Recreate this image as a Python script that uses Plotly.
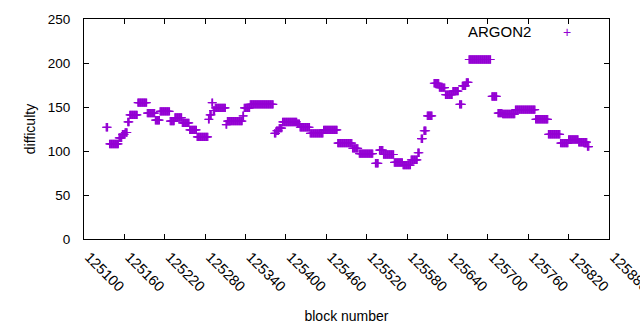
import plotly.graph_objects as go

# Runs of consecutive blocks sharing one difficulty value
run_start = [125133, 125138, 125152, 125157, 125161, 125165, 125168, 125180, 125194, 125206,
             125213, 125228, 125235, 125246, 125257, 125268, 125285, 125287, 125290, 125292,
             125295, 125311, 125313, 125336, 125338, 125347, 125383, 125386, 125390, 125395,
             125417, 125421, 125436, 125456, 125477, 125499, 125509, 125533, 125539, 125545,
             125561, 125574, 125586, 125596, 125601, 125605, 125610, 125620, 125628, 125637,
             125648, 125658, 125662, 125668, 125672, 125706, 125715, 125722, 125741, 125771,
             125790, 125808, 125820, 125835, 125848]
run_end = [125135, 125151, 125156, 125160, 125164, 125167, 125179, 125193, 125205, 125212,
           125227, 125234, 125245, 125256, 125267, 125284, 125286, 125289, 125291, 125294,
           125310, 125312, 125335, 125337, 125346, 125381, 125385, 125389, 125394, 125416,
           125420, 125435, 125455, 125476, 125498, 125507, 125529, 125537, 125544, 125560,
           125573, 125585, 125595, 125598, 125603, 125608, 125617, 125627, 125636, 125647,
           125656, 125661, 125667, 125671, 125704, 125713, 125721, 125740, 125770, 125789,
           125807, 125819, 125834, 125847, 125850]
run_difficulty = [127, 108, 115, 119, 121, 133, 141, 155, 143, 135,
                  145, 134, 138, 132, 124, 116, 136, 141, 155, 146,
                  149, 130, 134, 140, 149, 153, 120, 123, 126, 133,
                  131, 127, 120, 124, 109, 103, 97, 86, 101, 96,
                  87, 84, 90, 98, 114, 123, 140, 177, 172, 164,
                  168, 153, 174, 178, 204, 162, 143, 142, 147, 136,
                  119, 109, 113, 110, 105]

x_ticks = list(range(125100, 125881, 60))
y_ticks = [0, 50, 100, 150, 200, 250]

blocks, difficulty = [], []
for s, e, d in zip(run_start, run_end, run_difficulty):
    for b in range(s, e + 1):
        blocks.append(b)
        difficulty.append(d)

color = "#9400D3"
family = "Liberation Sans, Arial, sans-serif"
font = dict(family=family, size=13, color="#000000")

fig = go.Figure()
fig.add_trace(go.Scatter(
    x=blocks, y=difficulty, mode="markers", name="ARGON2",
    marker=dict(symbol="cross-thin", size=6, line=dict(color=color, width=1.2), color=color),
    showlegend=False,
))

fig.update_layout(
    width=640, height=330,
    margin=dict(l=84, r=31, t=19, b=91, autoexpand=False),
    paper_bgcolor="white", plot_bgcolor="white",
    font=font,
    annotations=[
        dict(xref="paper", yref="paper", x=0.855, y=0.943, text="ARGON2", showarrow=False,
             xanchor="right", yanchor="middle", font=dict(size=15, family=family, color="#000000")),
        dict(xref="paper", yref="paper", x=0.92, y=0.943, text="+", showarrow=False,
             xanchor="center", yanchor="middle", font=dict(size=14, family=family, color=color)),
    ],
)
fig.update_xaxes(
    range=[125100, 125880], tickvals=x_ticks, ticktext=[str(t) for t in x_ticks],
    tickangle=45, ticks="inside", ticklen=5, tickcolor="#000", tickwidth=1,
    showline=True, linecolor="#000", linewidth=1, mirror="allticks",
    showgrid=False, zeroline=False, automargin=False, ticklabeloverflow="allow",
    ticklabelshift=5, ticklabelstandoff=3,
    title=dict(text="block number", standoff=17, font=dict(size=14)),
    tickfont=dict(size=14.5),
)
fig.update_yaxes(
    range=[0, 250], tickvals=y_ticks,
    ticks="inside", ticklen=5, tickcolor="#000", tickwidth=1,
    showline=True, linecolor="#000", linewidth=1, mirror="allticks",
    showgrid=False, zeroline=False, automargin=False,
    ticklabelstandoff=10,
    title=dict(text="difficulty", standoff=8, font=dict(size=14)),
    tickfont=dict(size=13.5),
)

fig.write_html(
    "out.html",
    config={"displayModeBar": False},
    post_script="document.body.style.margin='0';document.body.style.overflow='hidden';",
)
